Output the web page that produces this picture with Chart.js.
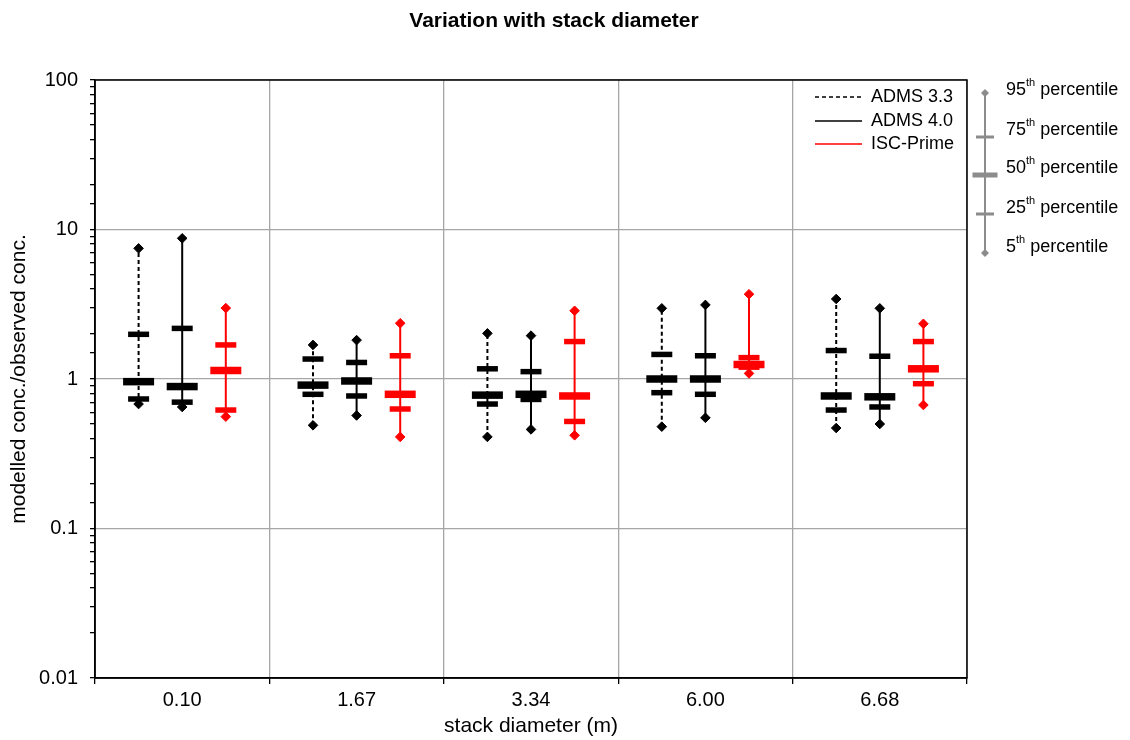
<!DOCTYPE html>
<html lang="en">
<head>
<meta charset="UTF-8">
<meta name="viewport" content="width=device-width, initial-scale=1.0">
<title>Variation with stack diameter</title>
<script src="https://cdn.jsdelivr.net/npm/chart.js"></script>
<style>
    body {
        margin: 0;
        background: #fff;
    }

    .chart-container {
        position: relative;
        width: 1130px;
        height: 740px;
    }
</style>
</head>
<body>
<div class="chart-container">
    <canvas id="stackChart"></canvas>
</div>
<script>
    // stack diameters (m) and y tick labels
    const categories = ['0.10', '1.67', '3.34', '6.00', '6.68'];
    const yTickLabels = ['0.01', '0.1', '1', '10', '100'];

    // ADMS 3.3 percentiles of modelled/observed
    const adms33P5  = [0.68, 0.49, 0.41, 0.48, 0.47];
    const adms33P25 = [0.735, 0.79, 0.68, 0.81, 0.62];
    const adms33P50 = [0.96, 0.91, 0.78, 1.0, 0.77];
    const adms33P75 = [1.99, 1.36, 1.17, 1.46, 1.55];
    const adms33P95 = [7.48, 1.69, 2.02, 2.97, 3.43];

    // ADMS 4.0
    const adms40P5  = [0.65, 0.57, 0.46, 0.55, 0.50];
    const adms40P25 = [0.70, 0.77, 0.73, 0.79, 0.65];
    const adms40P50 = [0.89, 0.97, 0.79, 1.0, 0.76];
    const adms40P75 = [2.18, 1.29, 1.12, 1.43, 1.42];
    const adms40P95 = [8.73, 1.82, 1.95, 3.13, 2.97];

    // ISC-Prime
    const iscP5  = [0.56, 0.41, 0.42, 1.09, 0.67];
    const iscP25 = [0.62, 0.63, 0.52, 1.20, 0.93];
    const iscP50 = [1.14, 0.79, 0.77, 1.25, 1.17];
    const iscP75 = [1.69, 1.43, 1.78, 1.39, 1.78];
    const iscP95 = [2.98, 2.36, 2.86, 3.69, 2.34];

    const FONT = '"Liberation Sans", Arial, sans-serif';
    Chart.defaults.font.family = FONT;
    Chart.defaults.color = '#000';

    const series = [
        { name: 'ADMS 3.3', p: [adms33P5, adms33P25, adms33P50, adms33P75, adms33P95], color: '#000000', dash: [4, 3], shift: -0.25 },
        { name: 'ADMS 4.0', p: [adms40P5, adms40P25, adms40P50, adms40P75, adms40P95], color: '#000000', dash: [], shift: 0 },
        { name: 'ISC-Prime', p: [iscP5, iscP25, iscP50, iscP75, iscP95], color: '#ff0000', dash: [], shift: 0.25 }
    ];

    const datasets = [];
    series.forEach(s => {
        const [p5, p25, p50, p75, p95] = s.p;
        const at = (arr) => categories.map((c, i) => ({ x: i + s.shift, y: arr[i] }));

        // whiskers 5th - 95th
        categories.forEach((c, i) => {
            datasets.push({
                type: 'line',
                data: [{ x: i + s.shift, y: p5[i] }, { x: i + s.shift, y: p95[i] }],
                borderColor: s.color,
                borderWidth: 2,
                borderDash: s.dash,
                pointRadius: 0,
                fill: false,
                order: 3
            });
        });

        // quartile bars
        datasets.push({
            type: 'scatter',
            data: at(p25).concat(at(p75)),
            pointStyle: 'line',
            pointRadius: 10.5,
            pointBorderWidth: 5.5,
            pointBorderColor: s.color,
            order: 2
        });

        // median bar
        datasets.push({
            type: 'scatter',
            data: at(p50),
            pointStyle: 'line',
            pointRadius: 15.5,
            pointBorderWidth: 7.5,
            pointBorderColor: s.color,
            order: 2
        });

        // 5th / 95th diamonds
        datasets.push({
            type: 'scatter',
            data: at(p5).concat(at(p95)),
            pointStyle: 'rectRot',
            pointRadius: 4.8,
            pointBorderWidth: 1,
            pointBorderColor: s.color,
            pointBackgroundColor: s.color,
            order: 1
        });
    });

    function isDecade(v) {
        const l = Math.log10(v);
        return Math.abs(l - Math.round(l)) < 1e-6;
    }

    const decorPlugin = {
        id: 'decor',
        afterDraw(chart) {
            const { ctx, chartArea: a } = chart;
            ctx.save();

            // frame round the plot
            ctx.strokeStyle = '#000';
            ctx.lineWidth = 1.5;
            ctx.strokeRect(a.left, a.top, a.right - a.left, a.bottom - a.top);

            // title
            ctx.fillStyle = '#000';
            ctx.font = 'bold 21px ' + FONT;
            ctx.textAlign = 'center';
            ctx.textBaseline = 'middle';
            ctx.fillText('Variation with stack diameter', 554, 21);

            // legend inside the plot
            const legendY = [97, 121, 144];
            ctx.font = '18px ' + FONT;
            ctx.textAlign = 'left';
            series.forEach((s, k) => {
                ctx.beginPath();
                ctx.strokeStyle = s.color;
                ctx.lineWidth = 1.5;
                ctx.setLineDash(s.dash);
                ctx.moveTo(815, legendY[k]);
                ctx.lineTo(862, legendY[k]);
                ctx.stroke();
                ctx.setLineDash([]);
                ctx.fillStyle = '#000';
                ctx.fillText(s.name, 871, legendY[k]);
            });

            // percentile key on the right
            const kx = 985, grey = '#8c8c8c';
            ctx.strokeStyle = grey;
            ctx.fillStyle = grey;
            ctx.lineWidth = 2;
            ctx.beginPath();
            ctx.moveTo(kx, 93);
            ctx.lineTo(kx, 253);
            ctx.stroke();
            [93, 253].forEach(y => {
                ctx.beginPath();
                ctx.moveTo(kx, y - 4);
                ctx.lineTo(kx + 4, y);
                ctx.lineTo(kx, y + 4);
                ctx.lineTo(kx - 4, y);
                ctx.closePath();
                ctx.fill();
            });
            ctx.fillRect(kx - 9, 137 - 1.5, 18, 3);
            ctx.fillRect(kx - 9, 214 - 1.5, 18, 3);
            ctx.fillRect(kx - 12.5, 175 - 2.5, 25, 5);

            const keyRows = [['95', 90], ['75', 130], ['50', 168], ['25', 208], ['5', 247]];
            ctx.fillStyle = '#000';
            keyRows.forEach(([n, y]) => {
                let x = 1006;
                ctx.font = '18px ' + FONT;
                ctx.fillText(n, x, y);
                x += ctx.measureText(n).width;
                ctx.font = '11px ' + FONT;
                ctx.fillText('th', x, y - 7);
                x += ctx.measureText('th').width;
                ctx.font = '18px ' + FONT;
                ctx.fillText(' percentile', x, y);
            });

            ctx.restore();
        }
    };

    new Chart(document.getElementById('stackChart'), {
        type: 'scatter',
        data: { datasets: datasets },
        plugins: [decorPlugin],
        options: {
            responsive: true,
            maintainAspectRatio: false,
            animation: false,
            events: [],
            layout: { padding: { left: 0, top: 80, right: 163, bottom: 0 } },
            plugins: {
                legend: { display: false },
                tooltip: { enabled: false }
            },
            scales: {
                x: {
                    type: 'linear',
                    min: -0.5,
                    max: 4.5,
                    display: false
                },
                xc: {
                    type: 'category',
                    labels: categories,
                    position: 'bottom',
                    offset: true,
                    grid: { offset: true, color: '#a6a6a6', tickColor: '#000', tickLength: 6, lineWidth: 1.3 },
                    border: { color: '#000', width: 1.5 },
                    ticks: { font: { size: 20 }, color: '#000', padding: 4, maxRotation: 0 },
                    title: { display: true, text: 'stack diameter (m)', font: { size: 21 }, color: '#000', padding: { top: 0, bottom: 1 } },
                    afterFit: (scale) => { scale.height = 62; }
                },
                y: {
                    type: 'logarithmic',
                    min: 0.01,
                    max: 100,
                    position: 'left',
                    border: { color: '#000', width: 1.5 },
                    grid: {
                        color: (c) => (c.tick && isDecade(c.tick.value)) ? '#a6a6a6' : 'rgba(0,0,0,0)',
                        tickColor: '#000',
                        tickLength: 5,
                        lineWidth: 1.3
                    },
                    ticks: {
                        autoSkip: false,
                        font: { size: 20 },
                        color: '#000',
                        padding: 12,
                        callback: (v) => {
                            if (!isDecade(v)) return '';
                            return yTickLabels[Math.round(Math.log10(v)) + 2];
                        }
                    },
                    title: { display: true, text: 'modelled conc./observed conc.', font: { size: 21 }, color: '#000', padding: { top: 7, bottom: 0 } },
                    afterFit: (scale) => { scale.width = 95; }
                }
            }
        }
    });
</script>
</body>
</html>
